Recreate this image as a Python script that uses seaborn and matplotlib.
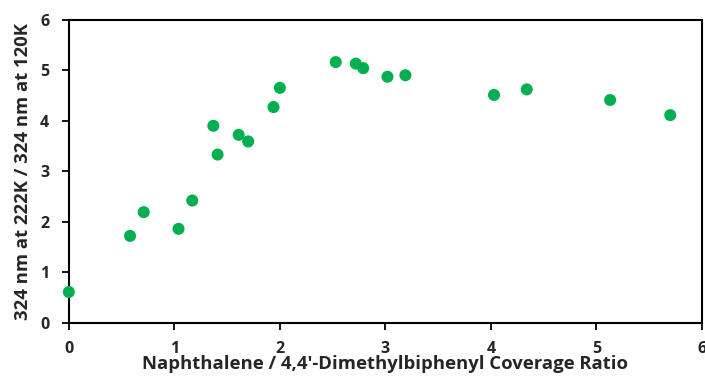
import matplotlib
matplotlib.use("Agg")
import matplotlib.pyplot as plt
import seaborn as sns
import pandas as pd

x_vals = [0.0, 0.58, 0.71, 1.04, 1.17, 1.37, 1.41, 1.61, 1.70, 1.94, 2.00,
          2.53, 2.72, 2.79, 3.02, 3.19, 4.03, 4.34, 5.13, 5.70]
y_vals = [0.61, 1.72, 2.19, 1.86, 2.42, 3.90, 3.33, 3.72, 3.59, 4.27, 4.65,
          5.16, 5.13, 5.04, 4.87, 4.90, 4.51, 4.62, 4.41, 4.11]
x_ticks = [0, 1, 2, 3, 4, 5, 6]
y_ticks = [0, 1, 2, 3, 4, 5, 6]
x_label = "Naphthalene / 4,4'-Dimethylbiphenyl Coverage Ratio"
y_label = "324 nm at 222K / 324 nm at 120K"

df = pd.DataFrame({"x": x_vals, "y": y_vals})

sns.set_style("white")
plt.rcParams['font.family'] = ['Open Sans', 'DejaVu Sans']

fig = plt.figure(figsize=(7.05, 3.78), dpi=100)
ax = fig.add_axes([0.0976, 0.146, 0.898, 0.802])
sns.scatterplot(data=df, x="x", y="y", ax=ax, color="#00B050", s=75,
                edgecolor="none", clip_on=False, zorder=3)
ax.set_xlim(0, 6)
ax.set_ylim(0, 6)
ax.set_xticks(x_ticks)
ax.set_yticks(y_ticks)
ax.tick_params(axis="both", direction="out", length=5, width=1.3, color="black",
               labelsize=11.5, bottom=True, left=True)
ax.tick_params(axis="x", pad=8)
ax.tick_params(axis="y", pad=9)
for lab in ax.get_xticklabels() + ax.get_yticklabels():
    lab.set_fontweight("bold")
ax.set_xlabel(x_label, fontsize=13.3, fontweight="bold", labelpad=-1)
ax.set_ylabel(y_label, fontsize=13.3, fontweight="bold", labelpad=6)
for sp in ax.spines.values():
    sp.set_color("black")
    sp.set_linewidth(1.5)
fig.savefig("out.png", dpi=100)
